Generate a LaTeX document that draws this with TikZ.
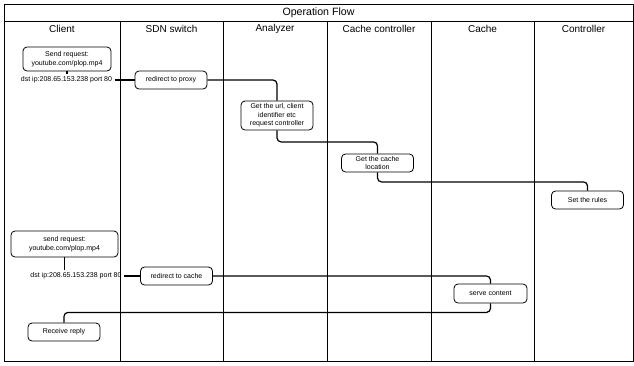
\documentclass[tikz,border=0pt]{standalone}
\usepackage{fontspec}
\setmainfont{Liberation Sans}
\usepackage{xcolor}

\tikzset{
    stepbox/.style={draw, rounded corners=4pt, line width=0.8pt, align=center,
        minimum width=72pt, minimum height=18pt, inner sep=1pt,
        font=\fontsize{7}{8.5}\selectfont},
    iplabel/.style={inner sep=2.5pt, font=\fontsize{7}{8.5}\selectfont},
    flow/.style={line width=1.2pt, rounded corners=4pt},
}

\begin{document}
\begin{tikzpicture}[x=1pt, y=-1pt]
            \useasboundingbox (0, 0) rectangle (634, 365);
            % frame and lanes
            \draw[line width=1pt] (4, 4) rectangle (633, 361);
            \draw[line width=1pt] (4, 21) -- (633, 21);
            \node[font=\fontsize{10.6}{12}\selectfont] (title) at (318.5, 12.5) {Operation Flow};
            \foreach \cX in {120, 223, 327, 431, 534}
                \draw[line width=1pt] (\cX, 21) -- (\cX, 361);
            \foreach \cX/\cName in {62/Client, 171.5/SDN switch, 275/Analyzer, 379/Cache controller, 482.5/Cache, 583.5/Controller}
                \node[font=\fontsize{10}{12}\selectfont] at (\cX, 28.5) {\cName};

            % first request
            \node[stepbox, minimum width=88pt, minimum height=24pt] (reqA) at (67, 59) {Send request:\\youtube.com/plop.mp4};
            \node[iplabel] (dstA) at (66.5, 80) {dst ip:208.65.153.238 port 80};
            \node[stepbox] (proxy) at (171, 80) {redirect to proxy};
            \node[stepbox, minimum height=29pt] (analyzer) at (277, 115.5) {Get the url, client\\identifier etc\\request controller};
            \node[stepbox] (cacheloc) at (377.5, 163) {Get the cache\\location};
            \node[stepbox] (rules) at (587.5, 200) {Set the rules};

            \draw[flow] (reqA.south) -- (reqA.south |- dstA.north);
            \draw[flow] (dstA.east) -- (proxy.west);
            \draw[flow] (proxy.east) -| (analyzer.north);
            \draw[flow] (analyzer.south) -- ++(0, 11.5) -| (cacheloc.north);
            \draw[flow] (cacheloc.south) -- ++(0, 9.5) -| (rules.north);

            % second request
            \node[stepbox, minimum width=107pt, minimum height=26pt] (reqB) at (64.5, 244) {send request:\\youtube.com/plop.mp4};
            \node[iplabel] (dstB) at (76, 276) {dst ip:208.65.153.238 port 80};
            \node[stepbox] (tocache) at (176.5, 276) {redirect to cache};
            \node[stepbox, minimum width=73pt, minimum height=19pt] (serve) at (490.5, 293.5) {serve content};
            \node[stepbox] (reply) at (64, 332) {Receive reply};

            \draw[flow] (reqB.south) -- (reqB.south |- dstB.north);
            \draw[flow] (dstB.east) -- (tocache.west);
            \draw[flow] (tocache.east) -| (serve.north);
            \draw[flow] (serve.south) -- ++(0, 9) -| (reply.north);
        \end{tikzpicture}
\end{document}
